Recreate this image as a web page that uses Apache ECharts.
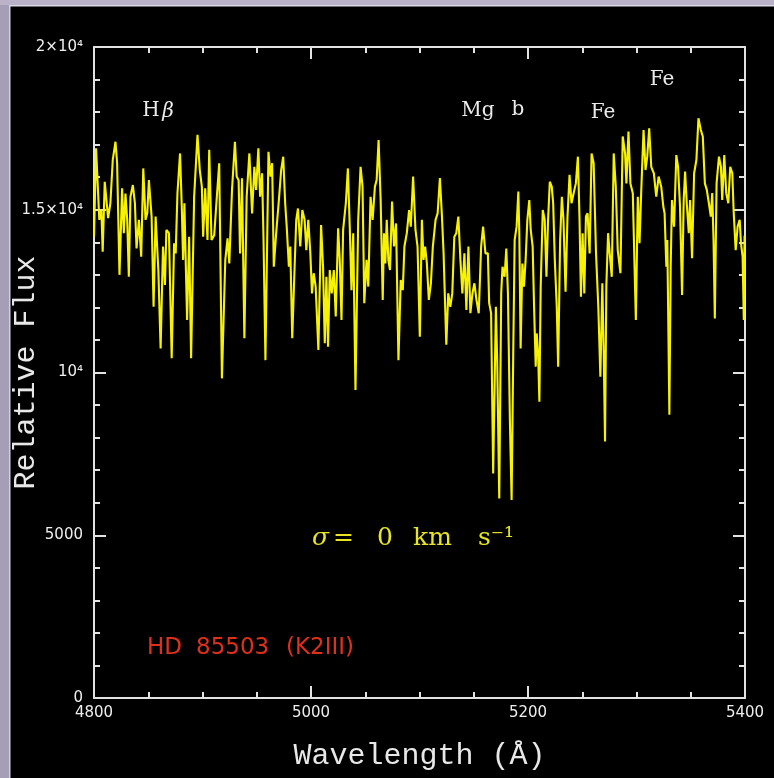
<!DOCTYPE html>
<html>
<head>
<meta charset="utf-8">
<title>HD 85503 spectrum</title>
<script src="https://cdn.jsdelivr.net/npm/echarts@6/dist/echarts.min.js"></script>
<style>
html, body { margin: 0; padding: 0; background: #000; }
#chart { width: 774px; height: 778px; }
</style>
</head>
<body>
<div id="chart"></div>
<script>
// wavelength (A) and relative flux
var wavelength = [
    4800.0, 4801.9, 4804.9, 4806.8, 4808.0, 4809.9, 4813.0, 4815.1, 4817.3, 4819.8,
    4821.3, 4823.5, 4825.9, 4827.5, 4829.0, 4830.6, 4832.1, 4833.6, 4835.8, 4837.7,
    4839.2, 4841.4, 4843.5, 4845.4, 4847.5, 4849.1, 4850.6, 4853.1, 4854.9, 4856.8,
    4859.3, 4861.4, 4863.6, 4865.4, 4866.7, 4869.1, 4871.6, 4873.8, 4875.3, 4876.9,
    4879.3, 4880.9, 4882.1, 4883.3, 4885.8, 4887.7, 4889.5, 4892.3, 4895.4, 4897.5,
    4899.4, 4900.6, 4902.5, 4904.6, 4906.2, 4908.3, 4910.8, 4913.0, 4915.4, 4917.9,
    4921.0, 4923.1, 4924.7, 4927.2, 4929.9, 4931.5, 4933.3, 4934.6, 4936.4, 4938.6,
    4940.7, 4943.2, 4945.7, 4947.8, 4949.4, 4951.5, 4953.1, 4954.9, 4956.2, 4958.0,
    4960.8, 4962.7, 4964.2, 4965.7, 4967.9, 4970.4, 4972.5, 4974.4, 4976.2, 4977.8,
    4979.6, 4980.9, 4982.7, 4984.9, 4986.4, 4988.0, 4990.1, 4992.0, 4994.1, 4995.7,
    4997.5, 4999.4, 5000.9, 5002.5, 5004.3, 5006.8, 5009.3, 5011.1, 5012.7, 5014.2,
    5015.7, 5017.3, 5019.1, 5021.0, 5022.8, 5025.0, 5026.5, 5028.1, 5029.6, 5032.1,
    5034.0, 5035.8, 5037.3, 5038.9, 5041.0,
    5043.5, 5045.7, 5047.5, 5049.1, 5051.2, 5052.8, 5054.9, 5056.8, 5058.9, 5060.5,
    5062.3, 5064.2, 5066.1, 5067.3, 5068.5, 5069.8, 5071.3, 5072.8, 5074.7, 5076.5,
    5078.4, 5080.6, 5082.7, 5084.6, 5086.1, 5088.3, 5090.4, 5092.0, 5094.1, 5096.3,
    5098.2, 5100.3, 5102.2, 5103.7, 5105.2, 5106.8, 5108.6, 5110.5, 5112.3, 5114.8,
    5116.7, 5118.8, 5120.7, 5122.2, 5124.7, 5126.5, 5128.4, 5130.2, 5132.1, 5133.9,
    5135.8, 5137.7, 5139.5, 5141.4, 5143.2, 5145.1, 5146.9, 5148.8, 5150.6, 5152.5,
    5154.6, 5156.8, 5158.6, 5160.8,
    5163.0, 5164.2, 5166.0, 5167.9, 5170.4, 5171.6, 5173.5, 5175.3, 5176.5, 5178.4,
    5180.0, 5181.5, 5183.3, 5184.9, 5186.4, 5187.7, 5189.5, 5191.1, 5192.0, 5193.2,
    5194.8, 5196.3, 5197.8, 5199.4, 5201.2, 5202.5, 5204.3, 5205.6, 5207.1, 5208.0,
    5209.3, 5210.5, 5211.7, 5213.6, 5215.4, 5217.0, 5218.5, 5220.1, 5221.9, 5223.2,
    5224.7, 5226.5, 5227.8, 5229.6, 5231.2, 5232.7, 5234.6, 5236.4, 5238.3, 5240.1,
    5242.0, 5244.1, 5246.0, 5247.5, 5248.8, 5250.3, 5251.9, 5253.4, 5254.9, 5256.8,
    5258.6, 5260.5, 5262.7, 5264.8, 5266.7, 5268.5, 5269.8, 5271.0, 5272.2, 5273.8,
    5275.3, 5277.2, 5279.0, 5280.9,
    5282.7, 5285.2, 5287.3, 5289.5, 5290.7, 5292.6, 5294.4, 5296.6, 5298.2, 5299.4,
    5301.2, 5302.8, 5304.3, 5306.5, 5308.3, 5309.9, 5311.7, 5313.6, 5316.0, 5318.2,
    5320.4, 5322.8, 5324.7, 5325.9, 5327.5, 5328.4, 5330.3, 5331.5, 5332.7, 5334.6,
    5336.7, 5338.3, 5340.1, 5342.0, 5343.5, 5344.8, 5346.3, 5348.2, 5349.4, 5351.2,
    5353.1, 5355.2, 5357.1, 5359.3, 5361.1, 5363.0, 5364.8, 5366.7, 5368.5, 5369.8,
    5371.0, 5372.2, 5373.8, 5376.0, 5377.8, 5379.0, 5380.9, 5382.7, 5384.6, 5386.4,
    5388.3, 5389.5, 5391.4, 5393.2, 5395.1, 5396.3, 5397.8, 5398.9, 5399.6, 5400.0
];
var flux = [
    14170, 16890, 14690, 14990, 13710, 15860, 14740, 15200, 16530, 17090,
    16430, 13000, 15660, 14280, 15500, 14690, 12940, 15400, 15760, 15200,
    13810, 14690, 13560, 16270, 14690, 14890, 15910, 14790, 12020, 14790,
    13150, 10740, 13870, 12690, 14380, 14280, 10440, 13970, 13660, 15500,
    16730, 15090, 13460, 15200, 11610, 14170, 10440, 15400, 17300, 16220,
    15710, 14170, 15660, 14070, 16840, 14070, 14220, 15300, 16430, 9820,
    13460, 14120, 13350, 15610, 17090, 16020, 15910, 13660, 15970, 11050,
    15400, 16730, 14890, 16320, 15610, 16890, 15400, 16120, 14170, 10380,
    16780, 16020, 16430, 13250, 14280, 15300, 16220, 16630, 15200, 14380,
    13250, 13870, 11050, 13250, 14690, 15040, 13870, 14990, 14690, 13760,
    14690, 13660, 12430, 13050, 12640, 10690, 14530, 13250, 10900, 12940,
    10790, 13150, 12430, 13150, 11720, 14430, 13460, 11610, 14380, 15200,
    16270, 14380, 12530, 14280, 9460,
    14690, 16320, 15710, 12130, 13460, 12640, 15400, 14690, 15710, 15910,
    17140, 15300, 12230, 14280, 13350, 14690, 13460, 13150, 15250, 13870,
    14580, 10380, 12840, 12530, 13870, 14280, 14990, 14480, 16020, 14380,
    13870, 11100, 14690, 13460, 13870, 13350, 12230, 12740, 13870, 14690,
    14890, 15970, 14790, 13660, 10850, 12430, 12020, 12430, 14170, 14280,
    14790, 13460, 12430, 13660, 11920, 13870, 11820, 12430, 12740, 12230,
    11820, 13870, 14480, 13660,
    13660, 12130, 11820, 6900, 12020, 10380, 6130, 12430, 13250, 12940,
    13810, 12430, 8540, 6080, 10590, 14070, 14480, 15560, 14280, 10740,
    13350, 12640, 13460, 14690, 15300, 14380, 13870, 12020, 10180, 11200,
    10590, 9100, 12640, 14990, 14690, 12940, 14690, 15860, 15710, 15200,
    13460, 12020, 10180, 14070, 15400, 14690, 12480, 14790, 16070, 15200,
    15500, 15810, 16630, 14690, 12330, 14280, 12430, 14790, 14890, 13660,
    16730, 16430, 13660, 12020, 9870, 12740, 10590, 7880, 12640, 14280,
    13660, 12940, 16730, 15710,
    13760, 13050, 17250, 16730, 15810, 17400, 15810, 15510, 13250, 11610,
    15400, 13970, 15510, 17450, 16220, 16630, 17500, 16320, 16120, 15400,
    16020, 15710, 15100, 14890, 13250, 14070, 8700, 13250, 15300, 14480,
    16680, 16320, 15100, 12380, 15300, 16170, 15200, 14280, 15300, 13510,
    16120, 16530, 17810, 17450, 17250, 15810, 15610, 15200, 14790, 15510,
    14070, 11660, 15810, 16630, 16320, 15300, 16680, 15510, 15200, 16320,
    16120, 14990, 13760, 14480, 14690, 13970, 13560, 11610, 14200, 13900
];

var yTickValues = [0, 5000, 10000, 15000, 20000];
var yTickLabels = ['0', '5000', '10\u2074', '1.5\u00d710\u2074', '2\u00d710\u2074'];

var frameColor = '#e2e2e2';
var labelFont = 'DejaVu Sans';
var serifFont = 'DejaVu Serif';

function frameAxis(position, min, max, interval, minorSplit, withLabels) {
    return {
        type: 'value',
        position: position,
        min: min,
        max: max,
        interval: interval,
        axisLine: {show: true, onZero: false, lineStyle: {color: frameColor, width: 2}},
        axisTick: {show: true, inside: true, length: 12, lineStyle: {color: frameColor, width: 2}},
        minorTick: {show: true, splitNumber: minorSplit, length: 6, lineStyle: {color: frameColor, width: 2}},
        splitLine: {show: false},
        minorSplitLine: {show: false},
        axisLabel: {show: withLabels}
    };
}

var xBottom = frameAxis('bottom', 4800, 5400, 200, 4, true);
xBottom.axisLabel = {
    show: true, margin: 8, color: '#eeeeee', fontSize: 15, fontFamily: labelFont,
    formatter: function (v) { return String(v); }
};
xBottom.name = 'Wavelength (\u00c5)';
xBottom.nameLocation = 'middle';
xBottom.nameGap = 43;
xBottom.nameMoveOverlap = false;
xBottom.nameTextStyle = {color: '#e8e8e8', fontSize: 30, fontFamily: 'Liberation Mono'};
var xTop = frameAxis('top', 4800, 5400, 200, 4, false);

var yLeft = frameAxis('left', 0, 20000, 5000, 5, true);
yLeft.axisLabel = {
    show: true, margin: 11, color: '#eeeeee', fontSize: 15, fontFamily: labelFont,
    formatter: function (v) {
        var i = yTickValues.indexOf(v);
        return i >= 0 ? yTickLabels[i] : '';
    }
};
yLeft.name = 'Relative Flux';
yLeft.nameLocation = 'middle';
yLeft.nameGap = 53;
yLeft.nameRotate = 90;
yLeft.nameMoveOverlap = false;
yLeft.nameTextStyle = {color: '#e8e8e8', fontSize: 30, fontFamily: 'Liberation Mono'};
var yRight = frameAxis('right', 0, 20000, 5000, 5, false);

function txt(text, x, y, size, color, family, align, italic) {
    return {
        type: 'text',
        z: 50,
        style: {
            text: text, x: x, y: y,
            fontSize: size, fontFamily: family, fontStyle: italic ? 'italic' : 'normal',
            fill: color,
            align: align, textAlign: align,
            verticalAlign: 'middle', textVerticalAlign: 'middle'
        }
    };
}

var white = '#ebebeb';
var yellow = '#e9e523';
var red = '#e0301c';

var myChart = echarts.init(document.getElementById('chart'));

var option = {
    backgroundColor: '#000',
    animation: false,
    grid: {left: 94, right: 29, top: 47, bottom: 80, containLabel: false, outerBoundsMode: 'none'},
    xAxis: [xBottom, xTop],
    yAxis: [yLeft, yRight],
    series: [{
        name: 'HD 85503',
        type: 'line',
        xAxisIndex: 0,
        yAxisIndex: 0,
        showSymbol: false,
        symbol: 'none',
        lineStyle: {color: '#f7f300', width: 2.1},
        data: wavelength.map(function (w, i) { return [w, flux[i]]; })
    }],
    graphic: [
        // lavender frame of the slide
        {type: 'rect', z: 100, shape: {x: 0, y: 0, width: 9, height: 778}, style: {fill: '#a69eb7'}},
        {type: 'rect', z: 100, shape: {x: 0, y: 0, width: 774, height: 5}, style: {fill: '#bab2c9'}},
        {type: 'rect', z: 101, shape: {x: 9, y: 5, width: 1.5, height: 773}, style: {fill: '#d4d0dc'}},
        {type: 'rect', z: 101, shape: {x: 9, y: 5, width: 765, height: 1.5}, style: {fill: '#dcd8e4'}},

        // line identifications
        txt('H', 151, 111, 20, white, serifFont, 'center', false),
        txt('\u03b2', 168, 112, 20, white, serifFont, 'center', true),
        txt('Mg', 478, 111, 20, white, serifFont, 'center', false),
        txt('b', 518, 110, 20, white, serifFont, 'center', false),
        txt('Fe', 603, 113, 20, white, serifFont, 'center', false),
        txt('Fe', 662, 80, 20, white, serifFont, 'center', false),

        // velocity dispersion
        txt('\u03c3', 312, 538, 25, yellow, serifFont, 'left', true),
        txt('=', 333, 538, 25, yellow, serifFont, 'left', false),
        txt('0', 377, 538, 25, yellow, serifFont, 'left', false),
        txt('km', 413, 538, 25, yellow, serifFont, 'left', false),
        txt('s\u207b\u00b9', 478, 538, 25, yellow, serifFont, 'left', false),

        // star name
        txt('HD', 147, 648, 23, red, labelFont, 'left', false),
        txt('85503', 196, 648, 23, red, labelFont, 'left', false),
        txt('(K2III)', 286, 648, 23, red, labelFont, 'left', false)
    ]
};

myChart.setOption(option);
</script>
</body>
</html>
